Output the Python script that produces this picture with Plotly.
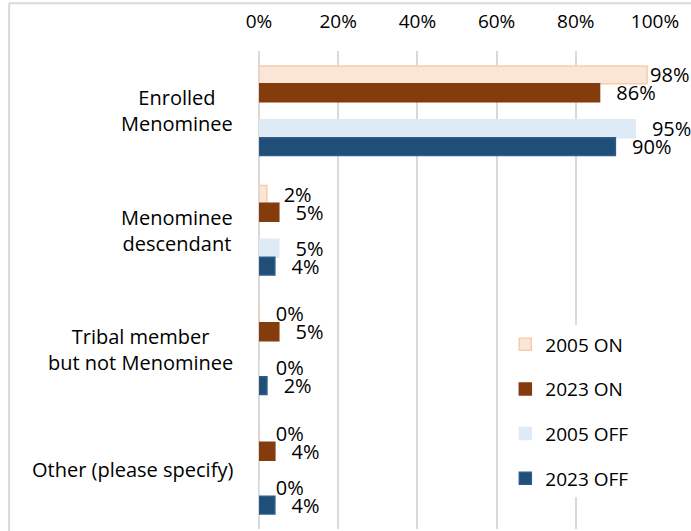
import plotly.graph_objects as go

# categories top to bottom
categories = ["Enrolled<br>Menominee", "Menominee<br>descendant",
              "Tribal member<br>but not Menominee", "Other (please specify)"]

on_2005 = [0.98, 0.02, 0.00, 0.00]
on_2023 = [0.86, 0.05, 0.05, 0.04]
off_2005 = [0.95, 0.05, 0.00, 0.00]
off_2023 = [0.90, 0.04, 0.02, 0.04]

tick_vals = [0, 0.2, 0.4, 0.6, 0.8, 1.0]

FONT = "Open Sans"
NB = "\u00a0"


def labels(vals):
    # Excel-ish label gap; the 98% label sits tight against the edge
    return [("" if v >= 0.97 else NB * 2 + "\u2009") + f"{v:.0%}" for v in vals]


series = [
    ("2005 ON", on_2005, "#FBE5D6", "#F8CBAD"),
    ("2023 ON", on_2023, "#843C0C", "#843C0C"),
    None,  # empty slot between ON and OFF pairs
    ("2005 OFF", off_2005, "#DEEBF7", "#DEEBF7"),
    ("2023 OFF", off_2023, "#1F4E79", "#2E5C88"),
]

fig = go.Figure()
for i, s in enumerate(series):
    if s is None:
        fig.add_trace(go.Bar(y=categories, x=[0] * len(categories), orientation="h",
                             marker=dict(color="rgba(0,0,0,0)", line=dict(width=0)),
                             showlegend=False, hoverinfo="skip"))
        continue
    name, vals, fill, edge = s
    fig.add_trace(go.Bar(
        y=categories, x=vals, orientation="h", name=name, legendgroup=name,
        marker=dict(color=fill, line=dict(color=edge, width=1.5)),
        text=labels(vals), textposition="outside", cliponaxis=False,
        constraintext="none",
        textfont=dict(family=FONT, size=20, color="#000000"),
    ))

for c in categories:
    fig.add_annotation(x=0, xref="paper", y=c, yref="y", text=c, showarrow=False,
                       xanchor="right", align="center", xshift=-24,
                       font=dict(family=FONT, size=20, color="#000000"))

# outer chart border (top and left only, rest is cropped)
fig.add_shape(type="line", xref="paper", yref="paper", x0=-0.631, x1=-0.631, y0=-0.1, y1=1.1,
              line=dict(color="#D9D9D9", width=2))
fig.add_shape(type="line", xref="paper", yref="paper", x0=-0.631, x1=1.2, y0=1.1, y1=1.1,
              line=dict(color="#D9D9D9", width=2))

fig.update_layout(
    width=691, height=531,
    margin=dict(l=259, r=36, t=51, b=2),
    paper_bgcolor="white", plot_bgcolor="white",
    barmode="group", bargap=0.25, bargroupgap=0,
    font=dict(family=FONT, size=20, color="#000000"),
    xaxis=dict(side="top", range=[0, 1], tickvals=tick_vals, tickformat=".0%",
               showgrid=True, gridcolor="#D9D9D9", gridwidth=2,
               zeroline=True, zerolinecolor="#D9D9D9", zerolinewidth=2,
               showline=False, ticks="", ticklabelstandoff=18,
               tickfont=dict(family=FONT, size=19, color="#000000")),
    yaxis=dict(autorange="reversed", showticklabels=False, showgrid=False,
               zeroline=False, showline=False, ticks=""),
    legend=dict(x=0.622, y=0.426, xanchor="left", yanchor="top",
                bgcolor="white", traceorder="grouped", tracegroupgap=17,
                font=dict(family=FONT, size=19, color="#000000")),
)

# drop the browser's default body margin so the figure sits at the window corner
fig.write_html("out.html", config={"displayModeBar": False},
               post_script="document.body.style.margin='0';")
